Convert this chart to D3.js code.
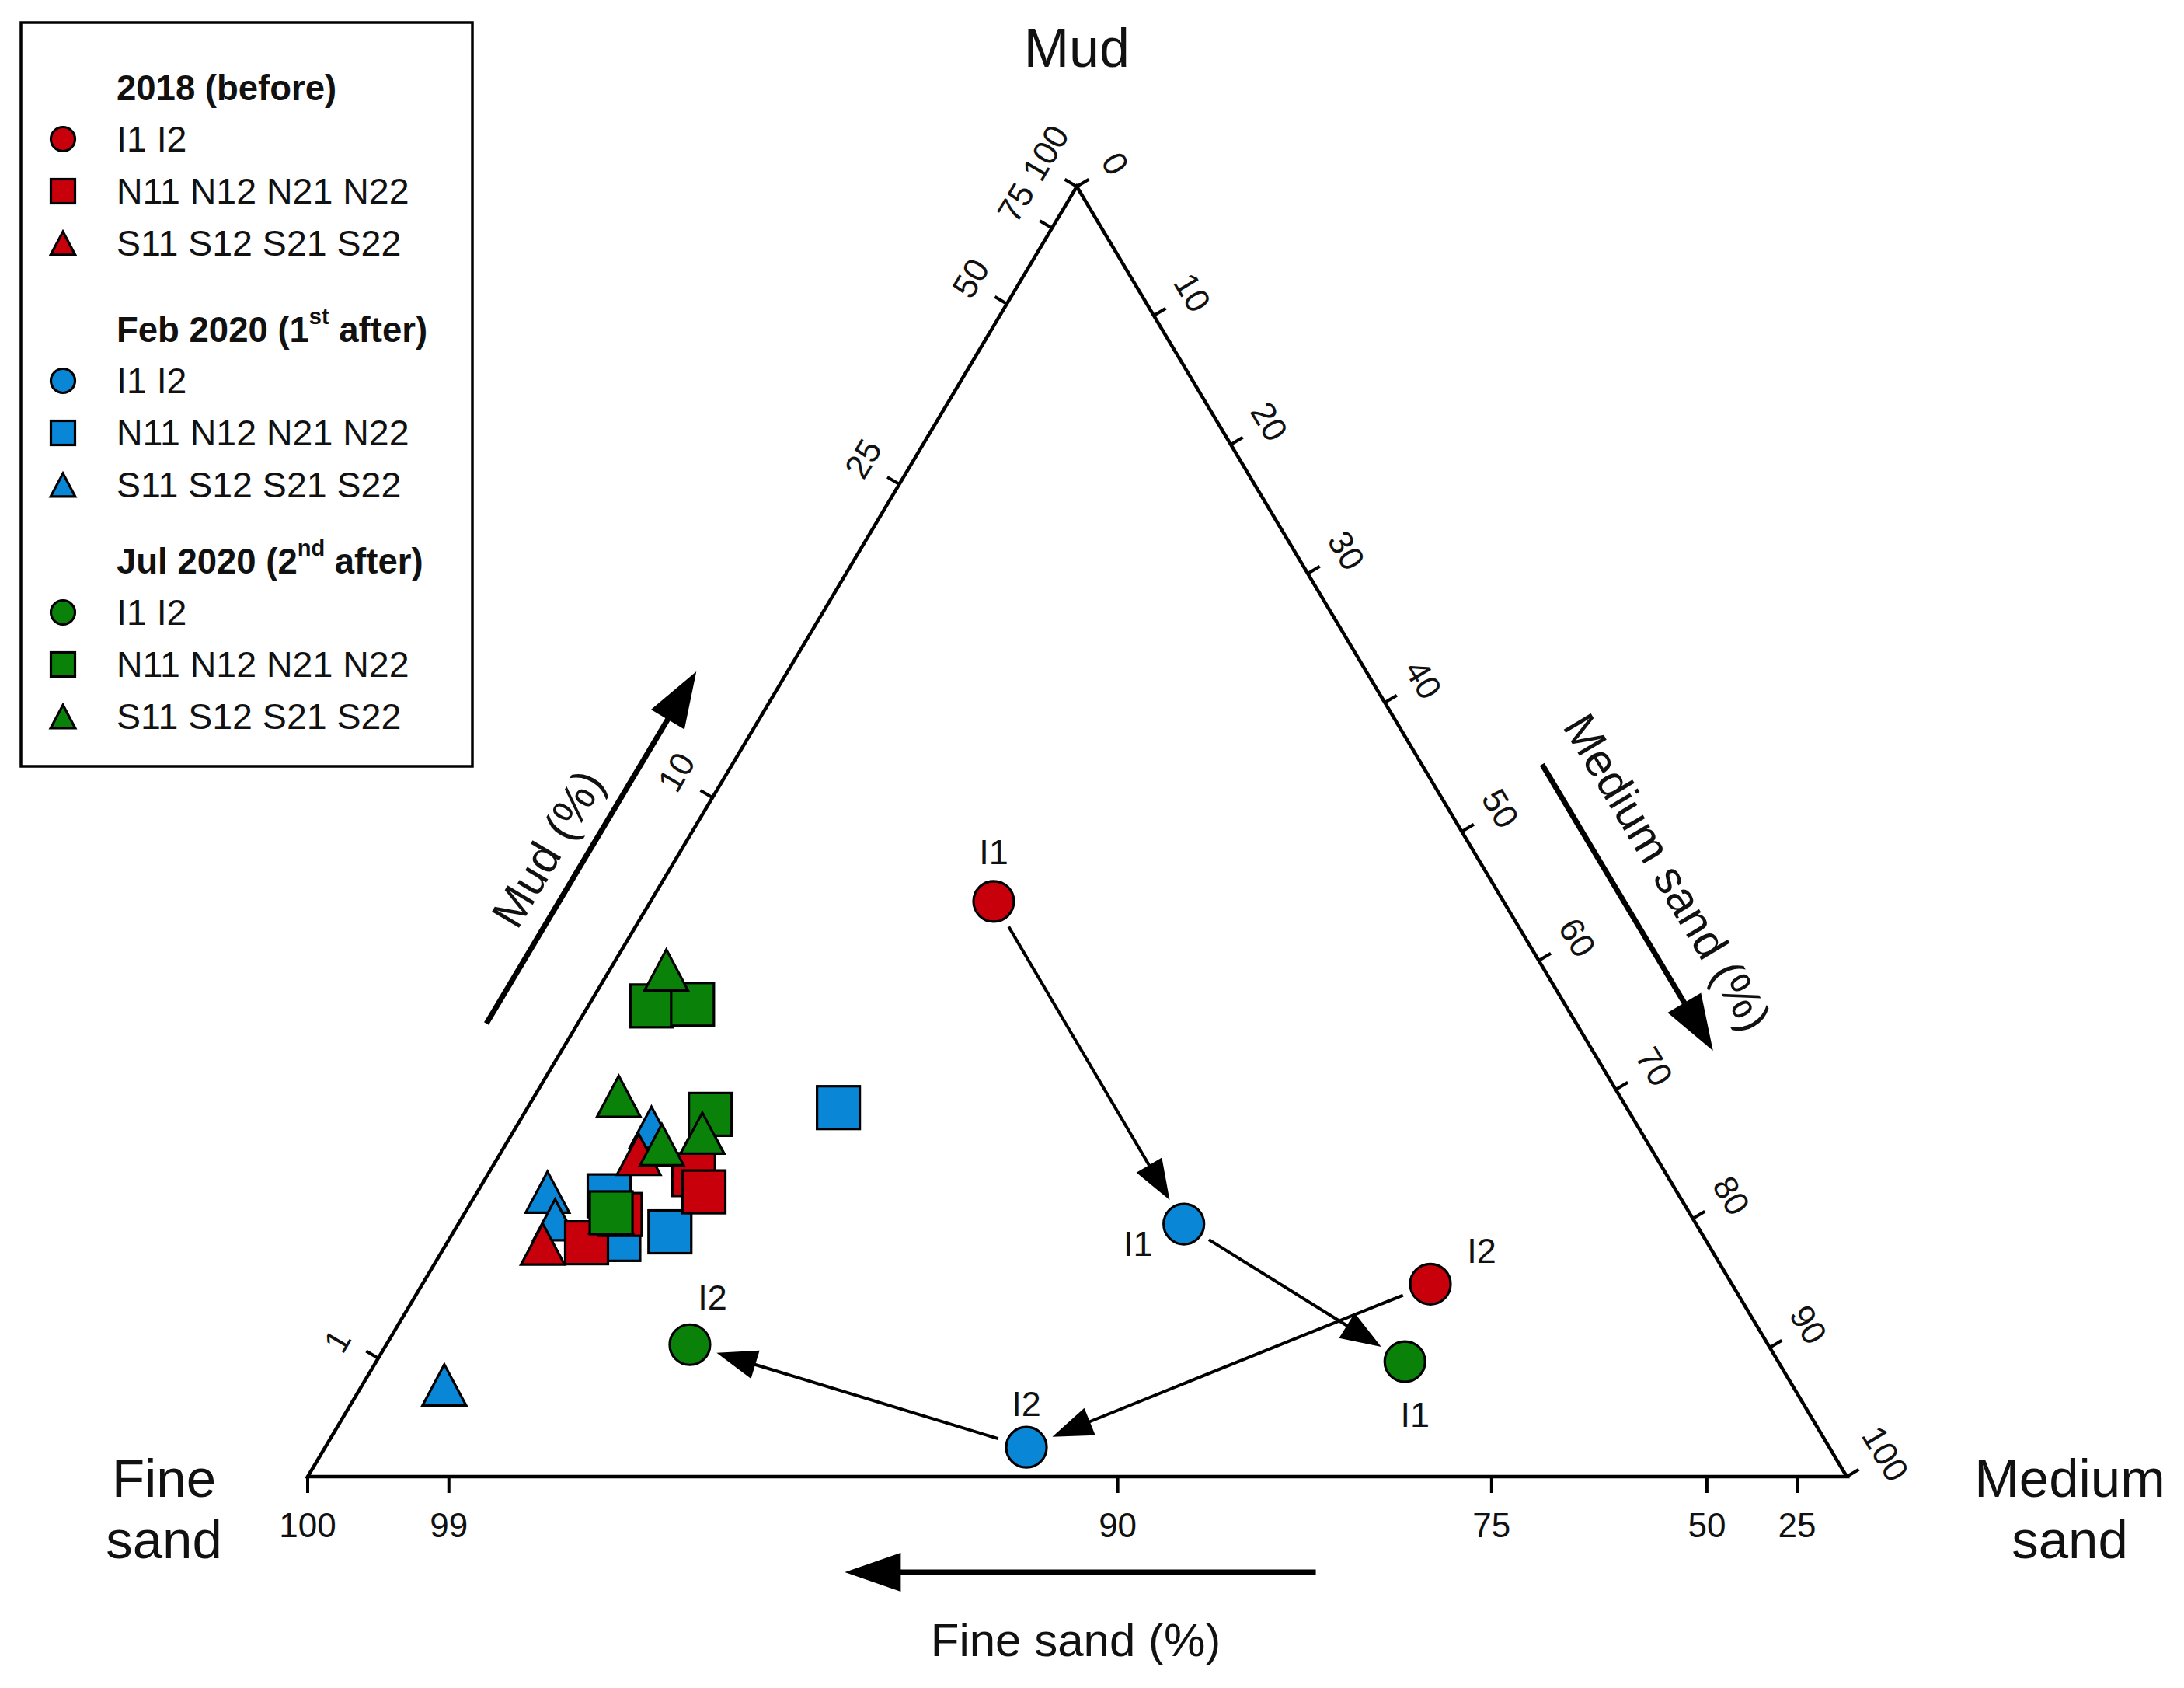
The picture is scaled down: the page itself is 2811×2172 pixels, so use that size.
<!DOCTYPE html>
<html>
<head>
<meta charset="utf-8">
<script src="https://cdn.jsdelivr.net/npm/d3@7/dist/d3.min.js"></script>
<style>
  body { margin: 0; background: #fff; }
  svg { display: block; }
  text { font-family: "Liberation Sans", Arial, Helvetica, sans-serif; fill: #111; }
</style>
</head>
<body>
<svg id="chart" width="2811" height="2172"></svg>
<script>
// compositions, % : [mud, fine sand, medium sand]
const inletSites = ["I1", "I2"];
const inlet2018 = [[11.2, 83.2, 5.6], [5.4, 70.9, 23.7]];
const inletFeb2020 = [[4.9, 83.3, 11.8], [0.4, 91.6, 8.0]];
const inletJul2020 = [[2.8, 76.2, 21.0], [1.4, 95.9, 2.7]];

const north2018 = [[3.5, 94.5, 2.0], [3.3, 94.5, 2.2], [2.4, 96.4, 1.2], [2.8, 95.8, 1.4]];
const northFeb2020 = [[2.7, 95.3, 2.0], [3.0, 95.8, 1.2], [2.5, 96.0, 1.5], [5.1, 91.3, 3.6]];
const northJul2020 = [[5.75, 93.6, 0.65], [6.0, 92.9, 1.1], [4.4, 93.7, 1.9], [2.8, 95.9, 1.3]];

const south2018 = [[3.6, 95.1, 1.3], [2.3, 96.6, 0.8], [2.8, 95.9, 1.3], [4.1, 94.0, 1.9]];
const southFeb2020 = [[4.0, 94.7, 1.3], [2.9, 96.5, 0.6], [2.6, 96.6, 0.8], [0.8, 98.6, 0.6]];
const southJul2020 = [[6.4, 93.0, 0.6], [4.3, 94.9, 0.8], [4.1, 94.0, 1.9], [3.8, 94.7, 1.5]];

const periodNames = ["2018 (before)", "Feb 2020 (1st after)", "Jul 2020 (2nd after)"];
const groupNames = ["I1 I2", "N11 N12 N21 N22", "S11 S12 S21 S22"];
const colors = ["#c8000c", "#0a86d6", "#0a820a"];

// tick labels on the three edges
const fineTicks = [100, 99, 90, 75, 50, 25];
const mudTicks = [1, 10, 25, 50, 75, 100];
const mediumTicks = [0, 10, 20, 30, 40, 50, 60, 70, 80, 90, 100];

// plot is centred: fine sand is shrunk before closing
const weight = [1, 0.1, 1];

const svg = d3.select("#chart");
const xs = d3.scaleLinear().domain([0, 1]).range([396, 2377]);
const ys = d3.scaleLinear().domain([0, 1]).range([1900, 240]);
const topShift = 0.4997;

function project(c) {
  const w = c.map((v, i) => v * weight[i]);
  const s = d3.sum(w);
  const a = w[0] / s, d = w[2] / s;
  return [xs(d + a * topShift), ys(a)];
}

const T = project([100, 0, 0]), BL = project([0, 100, 0]), BR = project([0, 0, 100]);

function unit(p, q) {
  const dx = q[0] - p[0], dy = q[1] - p[1], l = Math.hypot(dx, dy);
  return [dx / l, dy / l];
}
const leftDir = unit(BL, T), rightDir = unit(T, BR);
const leftN = [leftDir[1], -leftDir[0]];     // outward, to the left
const rightN = [rightDir[1], -rightDir[0]];  // outward, to the right
const leftAng = Math.atan2(leftDir[1], leftDir[0]) * 180 / Math.PI;
const rightAng = Math.atan2(rightDir[1], rightDir[0]) * 180 / Math.PI;

// triangle
svg.append("path")
  .attr("d", d3.line()([T, BL, BR, T]) + "Z")
  .attr("fill", "none").attr("stroke", "#000").attr("stroke-width", 4.5)
  .attr("stroke-linejoin", "miter");

const tickLen = 18;
const axes = svg.append("g").attr("font-size", 44);

// bottom axis: fine sand
fineTicks.forEach(v => {
  const p = project([0, v, 100 - v]);
  axes.append("line").attr("x1", p[0]).attr("y1", p[1]).attr("x2", p[0]).attr("y2", p[1] + tickLen + 3)
    .attr("stroke", "#000").attr("stroke-width", 4);
  axes.append("text").attr("x", p[0]).attr("y", p[1] + 62)
    .attr("text-anchor", "middle").attr("dominant-baseline", "central").text(v);
});

// left axis: mud (labels start just below their tick, reading up the edge)
mudTicks.forEach(v => {
  const p = project([v, 100 - v, 0]);
  axes.append("line").attr("x1", p[0]).attr("y1", p[1])
    .attr("x2", p[0] + leftN[0] * tickLen).attr("y2", p[1] + leftN[1] * tickLen)
    .attr("stroke", "#000").attr("stroke-width", 4);
  const lx = p[0] + leftN[0] * 57 - leftDir[0] * 20, ly = p[1] + leftN[1] * 57 - leftDir[1] * 20;
  axes.append("text").attr("transform", `translate(${lx},${ly}) rotate(${leftAng})`)
    .attr("text-anchor", "start").attr("dominant-baseline", "central").text(v);
});

// right axis: medium sand
mediumTicks.forEach(v => {
  const p = project([100 - v, 0, v]);
  axes.append("line").attr("x1", p[0]).attr("y1", p[1])
    .attr("x2", p[0] + rightN[0] * tickLen).attr("y2", p[1] + rightN[1] * tickLen)
    .attr("stroke", "#000").attr("stroke-width", 4);
  const lx = p[0] + rightN[0] * 58, ly = p[1] + rightN[1] * 58;
  axes.append("text").attr("transform", `translate(${lx},${ly}) rotate(${rightAng})`)
    .attr("text-anchor", "middle").attr("dominant-baseline", "central").text(v);
});

// arrow helper: filled head at p1
function arrow(g, p0, p1, width, headLen, headW) {
  const u = unit(p0, p1), n = [-u[1], u[0]];
  const base = [p1[0] - u[0] * headLen, p1[1] - u[1] * headLen];
  g.append("line").attr("x1", p0[0]).attr("y1", p0[1])
    .attr("x2", base[0] + u[0] * 4).attr("y2", base[1] + u[1] * 4)
    .attr("stroke", "#000").attr("stroke-width", width);
  g.append("path").attr("d", d3.line()([
      p1,
      [base[0] + n[0] * headW / 2, base[1] + n[1] * headW / 2],
      [base[0] - n[0] * headW / 2, base[1] - n[1] * headW / 2]
    ]) + "Z").attr("fill", "#000");
}

// point along an edge at fraction t, pushed out by off
function along(a, b, t, nrm, off) {
  return [a[0] + (b[0] - a[0]) * t + nrm[0] * off, a[1] + (b[1] - a[1]) * t + nrm[1] * off];
}

const deco = svg.append("g");
arrow(deco, along(BL, T, 0.320, leftN, 101), along(BL, T, 0.593, leftN, 101), 7, 72, 50);
arrow(deco, along(T, BR, 0.489, rightN, 133), along(T, BR, 0.711, rightN, 133), 7, 72, 50);
arrow(deco, along(BL, BR, 0.655, [0, 1], 123), along(BL, BR, 0.349, [0, 1], 123), 7, 72, 50);

const mudLab = along(BL, T, 0.441, leftN, 148);
deco.append("text").attr("transform", `translate(${mudLab[0]},${mudLab[1]}) rotate(${leftAng})`)
  .attr("font-size", 59).attr("text-anchor", "middle").attr("dominant-baseline", "central").text("Mud (%)");
const medLab = along(T, BR, 0.5935, rightN, 200);
deco.append("text").attr("transform", `translate(${medLab[0]},${medLab[1]}) rotate(${rightAng})`)
  .attr("font-size", 59).attr("text-anchor", "middle").attr("dominant-baseline", "central").text("Medium sand (%)");
deco.append("text").attr("x", (BL[0] + BR[0]) / 2 - 2).attr("y", BL[1] + 210)
  .attr("font-size", 60).attr("text-anchor", "middle").attr("dominant-baseline", "central").text("Fine sand (%)");

// corner titles
deco.append("text").attr("x", T[0]).attr("y", 62).attr("font-size", 70)
  .attr("text-anchor", "middle").attr("dominant-baseline", "central").text("Mud");
[["Fine", 0], ["sand", 1]].forEach(([t, i]) =>
  deco.append("text").attr("x", 211).attr("y", 1902 + i * 79).attr("font-size", 69)
    .attr("text-anchor", "middle").attr("dominant-baseline", "central").text(t));
[["Medium", 0], ["sand", 1]].forEach(([t, i]) =>
  deco.append("text").attr("x", 2664).attr("y", 1902 + i * 79).attr("font-size", 69)
    .attr("text-anchor", "middle").attr("dominant-baseline", "central").text(t));

// symbols
function symbol(g, shape, p, fill, size) {
  const [x, y] = p;
  let el;
  if (shape === 0) {
    el = g.append("circle").attr("cx", x).attr("cy", y).attr("r", size / 2);
  } else if (shape === 1) {
    el = g.append("rect").attr("x", x - size / 2).attr("y", y - size / 2).attr("width", size).attr("height", size);
  } else {
    const w = size * 1.02, h = size * 0.96;
    el = g.append("path").attr("d", d3.line()([[x, y - h / 2], [x + w / 2, y + h / 2], [x - w / 2, y + h / 2]]) + "Z");
  }
  el.attr("fill", fill).attr("stroke", "#000").attr("stroke-width", 3.2).attr("stroke-linejoin", "miter");
}

// transitions of the inlet sites
const inletPeriods = [inlet2018, inletFeb2020, inletJul2020];
const arrows = svg.append("g");
for (let s = 0; s < 2; s++) {
  for (let k = 0; k < 2; k++) {
    const p0 = project(inletPeriods[k][s]), p1 = project(inletPeriods[k + 1][s]);
    const u = unit(p0, p1);
    arrow(arrows,
      [p0[0] + u[0] * 38, p0[1] + u[1] * 38],
      [p1[0] - u[0] * 36, p1[1] - u[1] * 36], 4, 52, 38);
  }
}

const pts = svg.append("g");
const allGroups = [[inlet2018, north2018, south2018], [inletFeb2020, northFeb2020, southFeb2020],
                   [inletJul2020, northJul2020, southJul2020]];
// drawing order as in the figure: blue, red, green
[1, 0, 2].forEach(k => {
  [1, 2, 0].forEach(gi => {
    allGroups[k][gi].forEach(c => symbol(pts, gi, project(c), colors[k], gi === 0 ? 52 : 55));
  });
});

// site labels next to the inlet circles
const labelOffsets = [[[0, -63], [66, -43]], [[-59, 25], [0, -56]], [[13, 68], [29, -61]]];
const labs = svg.append("g").attr("font-size", 45);
inletPeriods.forEach((per, k) => per.forEach((c, s) => {
  const p = project(c);
  labs.append("text").attr("x", p[0] + labelOffsets[k][s][0]).attr("y", p[1] + labelOffsets[k][s][1])
    .attr("text-anchor", "middle").attr("dominant-baseline", "central").text(inletSites[s]);
}));

// legend
const leg = svg.append("g");
leg.append("rect").attr("x", 27).attr("y", 29).attr("width", 581).attr("height", 957)
  .attr("fill", "#fff").attr("stroke", "#000").attr("stroke-width", 3.5);
const headY = [113, 424, 722];
periodNames.forEach((name, k) => {
  const h = leg.append("text").attr("x", 150).attr("y", headY[k]).attr("font-size", 45.5)
    .attr("font-weight", "bold").attr("dominant-baseline", "central");
  if (k === 0) {
    h.text(name);
  } else {
    const m = name.match(/^(.*\()(\d)(st|nd)( after\))$/);
    h.append("tspan").text(m[1] + m[2]);
    h.append("tspan").attr("font-size", 29).attr("dy", -17).text(m[3]);
    h.append("tspan").attr("dy", 17).text(m[4]);
  }
  groupNames.forEach((g, gi) => {
    const y = headY[k] + 66 + gi * 67;
    symbol(leg, gi, [81, y], colors[k], 31);
    leg.append("text").attr("x", 150).attr("y", y).attr("font-size", 46.5)
      .attr("dominant-baseline", "central").text(g);
  });
});
</script>
</body>
</html>
